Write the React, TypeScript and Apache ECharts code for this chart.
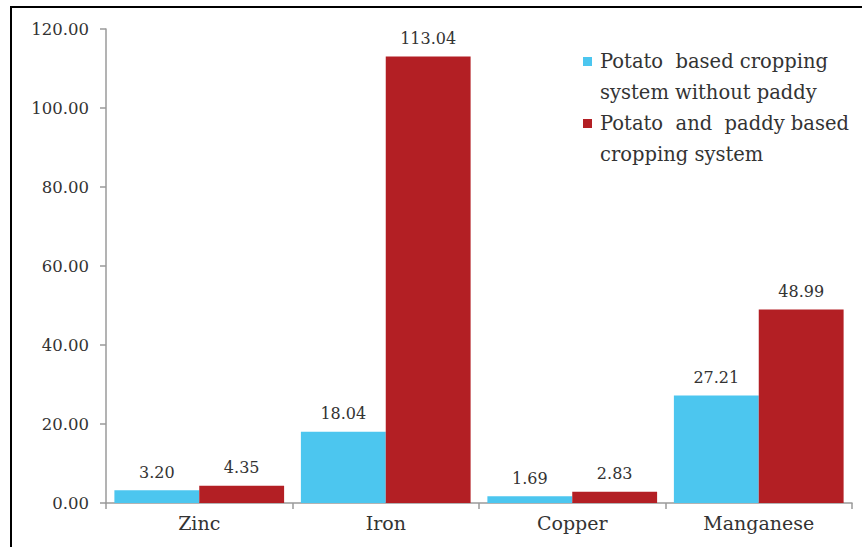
import React, { useEffect, useRef } from "react";
import * as echarts from "echarts";

const categories = ["Zinc", "Iron", "Copper", "Manganese"];
const seriesNames = [
  "Potato based cropping system without paddy",
  "Potato and paddy based cropping system",
];
const legendLines = [
  "Potato  based cropping\nsystem without paddy",
  "Potato  and  paddy based\ncropping system",
];
const withoutPaddy = [3.2, 18.04, 1.69, 27.21];
const withPaddy = [4.35, 113.04, 2.83, 48.99];
const colors = ["#4CC6EF", "#B31F24"];

const FONT = "DejaVu Serif";

export default function App() {
  const ref = useRef<HTMLDivElement>(null);
  useEffect(() => {
    if (!ref.current) return;
    const chart = echarts.init(ref.current, null, { renderer: "svg" });
    const labelStyle = {
      show: true,
      position: "top" as const,
      distance: 10,
      fontFamily: FONT,
      fontSize: 16,
      color: "#333",
      formatter: (p: any) => Number(p.value).toFixed(2),
    };
    chart.setOption({
      animation: false,
      backgroundColor: "#fff",
      textStyle: { fontFamily: FONT },
      grid: { left: 106, right: 10, top: 29, bottom: 44, containLabel: false },
      xAxis: {
        type: "category",
        data: categories,
        axisLine: { lineStyle: { color: "#9a9a9a", width: 1.5 } },
        axisTick: { show: true, length: 6, lineStyle: { color: "#9a9a9a", width: 1.5 } },
        axisLabel: { fontFamily: FONT, fontSize: 19, color: "#333", margin: 10 },
      },
      yAxis: {
        type: "value",
        min: 0,
        max: 120,
        interval: 20,
        splitLine: { show: false },
        axisLine: { show: true, lineStyle: { color: "#9a9a9a", width: 1.5 } },
        axisTick: { show: true, length: 6, lineStyle: { color: "#9a9a9a", width: 1.5 } },
        axisLabel: {
          fontFamily: FONT,
          fontSize: 16.5,
          color: "#333",
          margin: 17,
          formatter: (v: number) => v.toFixed(2),
        },
      },
      series: [
        {
          name: seriesNames[0],
          type: "bar",
          data: withoutPaddy,
          itemStyle: { color: colors[0] },
          barGap: "0%",
          barCategoryGap: "9%",
          label: labelStyle,
        },
        {
          name: seriesNames[1],
          type: "bar",
          data: withPaddy,
          itemStyle: { color: colors[1] },
          barGap: "0%",
          barCategoryGap: "9%",
          label: labelStyle,
        },
      ],
      graphic: [
        {
          type: "rect",
          shape: { x: 11, y: 7, width: 900, height: 600 },
          style: { fill: "none", stroke: "#000", lineWidth: 2 },
          silent: true,
        },
        ...legendLines.flatMap((t, i) => [
          {
            type: "rect",
            shape: { x: 583, y: 57 + i * 62, width: 9, height: 9 },
            style: { fill: colors[i] },
          },
          {
            type: "text",
            x: 600,
            y: 45.5 + i * 62,
            style: {
              text: t,
              fontFamily: FONT,
              fontSize: 19.5,
              fill: "#333",
              lineHeight: 31,
              verticalAlign: "top",
            },
          },
        ]),
      ],
    });
    return () => chart.dispose();
  }, []);
  return (
    <div
      ref={ref}
      style={{ position: "fixed", left: 0, top: 0, width: 862, height: 547 }}
    />
  );
}
